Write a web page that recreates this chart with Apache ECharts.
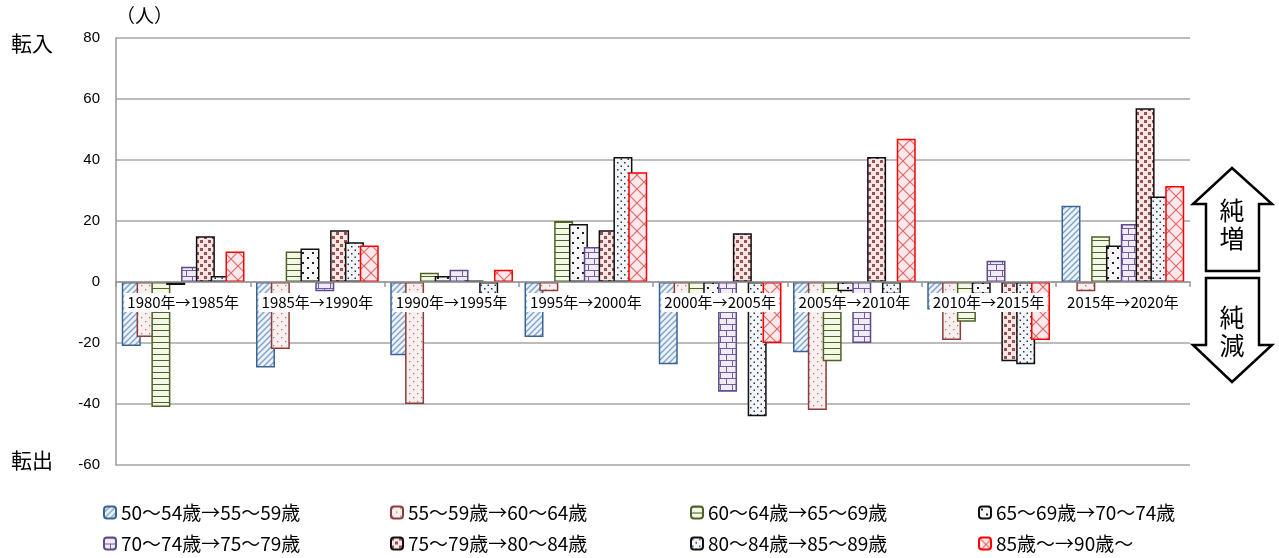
<!DOCTYPE html>
<html>
<head>
<meta charset="utf-8">
<script src="https://cdn.jsdelivr.net/npm/echarts@6/dist/echarts.min.js"></script>
<style>
html, body { margin: 0; padding: 0; background: #fff; }
#main { width: 1279px; height: 558px; }
</style>
</head>
<body>
<div id="main"></div>
<script>
var categories = ['1980年→1985年', '1985年→1990年', '1990年→1995年', '1995年→2000年',
    '2000年→2005年', '2005年→2010年', '2010年→2015年', '2015年→2020年'];
var seriesNames = ['50〜54歳→55〜59歳', '55〜59歳→60〜64歳', '60〜64歳→65〜69歳', '65〜69歳→70〜74歳',
    '70〜74歳→75〜79歳', '75〜79歳→80〜84歳', '80〜84歳→85〜89歳', '85歳〜→90歳〜'];
var age50 = [-21, -28, -24, -18, -27, -23, -9, 25];
var age55 = [-18, -22, -40, -3, -9, -42, -19, -3];
var age60 = [-41, 10, 3, 20, -7, -26, -13, 15];
var age65 = [-1, 11, 2, 19, -5, -3, -4, 12];
var age70 = [5, -3, 4, 11.5, -36, -20, 7, 19];
var age75 = [15, 17, 0.5, 17, 16, 41, -26, 57];
var age80 = [2, 13, -5, 41, -44, -4, -27, 28];
var age85 = [10, 12, 4, 36, -20, 47, -19, 31.5];
var seriesData = [age50, age55, age60, age65, age70, age75, age80, age85];
var yTicks = [-60, -40, -20, 0, 20, 40, 60, 80];

var FONT = 'Noto Sans CJK JP';

// small tiled canvases used as bar fills
function pattern(size, bg, draw) {
    var c = document.createElement('canvas');
    c.width = c.height = size;
    var g = c.getContext('2d');
    g.fillStyle = bg;
    g.fillRect(0, 0, size, size);
    draw(g, size);
    return { image: c, repeat: 'repeat' };
}
function line(g, x1, y1, x2, y2) {
    g.beginPath(); g.moveTo(x1, y1); g.lineTo(x2, y2); g.stroke();
}

var fills = [
    pattern(6, '#eef3f9', function (g, s) {
        g.strokeStyle = '#7fa3c9'; g.lineWidth = 1.4;
        line(g, 0, s, s, 0); line(g, -s, s, s, -s); line(g, 0, 2 * s, 2 * s, 0);
    }),
    pattern(8, '#fbf0f0', function (g) {
        g.fillStyle = '#b07a7a';
        g.fillRect(1, 1, 1.3, 1.3); g.fillRect(5, 5, 1.3, 1.3);
    }),
    pattern(6, '#f4f8e6', function (g, s) {
        g.strokeStyle = '#4f6228'; g.lineWidth = 1;
        line(g, 0, 0.5, s, 0.5);
    }),
    pattern(10, '#f7f7f7', function (g) {
        g.fillStyle = '#222';
        g.fillRect(2, 2, 2, 2); g.fillRect(7, 7, 2, 2);
    }),
    pattern(12, '#f1ebf7', function (g) {
        g.strokeStyle = '#6f5f9a'; g.lineWidth = 1;
        line(g, 0, 0.5, 12, 0.5); line(g, 0, 6.5, 12, 6.5);
        line(g, 0.5, 0, 0.5, 6); line(g, 6.5, 6, 6.5, 12);
    }),
    pattern(8, '#f6e6e6', function (g) {
        g.fillStyle = '#9a5050';
        g.fillRect(0, 0, 3, 3); g.fillRect(4, 4, 3, 3);
    }),
    pattern(7, '#f2f6fa', function (g) {
        g.fillStyle = '#333';
        g.fillRect(1, 1, 1.5, 1.5); g.fillRect(4.5, 4.5, 1.5, 1.5);
    }),
    pattern(14, '#fde9ec', function (g, s) {
        g.strokeStyle = '#e06a6a'; g.lineWidth = 1.2;
        line(g, 0, 0, s, s); line(g, 0, s, s, 0);
    })
];
var borders = ['#3b6496', '#8c3c3c', '#4f6228', '#111', '#5f4b8b', '#111', '#111', '#ff0000'];

var legendLeft = [103, 390, 690, 978];
var legendTop = [503, 534];

var chart = echarts.init(document.getElementById('main'));

var series = seriesData.map(function (d, i) {
    return {
        name: seriesNames[i],
        type: 'bar',
        data: d,
        barWidth: 19,
        barGap: '-22%',
        itemStyle: { color: fills[i], borderColor: borders[i], borderWidth: 1.5 }
    };
});

var legends = seriesNames.map(function (n, i) {
    return {
        data: [n],
        left: legendLeft[i % 4],
        top: legendTop[Math.floor(i / 4)],
        padding: 0,
        itemWidth: 12,
        itemHeight: 12,
        itemGap: 6,
        textStyle: { fontFamily: FONT, fontSize: 19, color: '#000' }
    };
});

var option = {
    animation: false,
    textStyle: { fontFamily: FONT },
    grid: { left: 116, right: 89, top: 38, bottom: 93 },
    legend: legends,
    xAxis: {
        type: 'category',
        data: categories,
        z: 10,
        offset: -183,
        axisLine: { onZero: false, lineStyle: { color: '#999', width: 1.5 } },
        axisTick: { show: true, length: 5, lineStyle: { color: '#999', width: 1.5 } },
        axisLabel: {
            interval: 0, margin: 11, fontSize: 15, color: '#000',
            backgroundColor: '#fff', padding: [2, 3], fontFamily: FONT
        }
    },
    yAxis: {
        type: 'value',
        min: yTicks[0],
        max: yTicks[yTicks.length - 1],
        interval: 20,
        axisLine: { show: true, lineStyle: { color: '#999', width: 1.5 } },
        axisTick: { show: false },
        splitLine: { lineStyle: { color: '#a6a6a6', width: 1.5 } },
        axisLabel: { fontSize: 15, color: '#000', margin: 16, fontFamily: 'Liberation Sans' }
    },
    graphic: [
        { type: 'text', left: 116, top: 6, style: { text: '（人）', fill: '#000', font: '19px ' + FONT } },
        { type: 'text', left: 11, top: 33, style: { text: '転入', fill: '#000', font: '21px ' + FONT } },
        { type: 'text', left: 11, top: 450, style: { text: '転出', fill: '#000', font: '21px ' + FONT } },
        {
            type: 'polygon',
            shape: { points: [[1232, 168], [1272, 204], [1259, 204], [1259, 271], [1206, 271], [1206, 204], [1193, 204]] },
            style: { fill: '#fff', stroke: '#000', lineWidth: 2.5 }
        },
        {
            type: 'polygon',
            shape: { points: [[1206, 278], [1259, 278], [1259, 345], [1272, 345], [1232, 382], [1193, 345], [1206, 345]] },
            style: { fill: '#fff', stroke: '#000', lineWidth: 2.5 }
        },
        { type: 'text', x: 1232, y: 210, style: { text: '純', font: '25px ' + FONT, fill: '#000', align: 'center', verticalAlign: 'middle' } },
        { type: 'text', x: 1232, y: 238, style: { text: '増', font: '25px ' + FONT, fill: '#000', align: 'center', verticalAlign: 'middle' } },
        { type: 'text', x: 1232, y: 317, style: { text: '純', font: '25px ' + FONT, fill: '#000', align: 'center', verticalAlign: 'middle' } },
        { type: 'text', x: 1232, y: 345, style: { text: '減', font: '25px ' + FONT, fill: '#000', align: 'center', verticalAlign: 'middle' } }
    ],
    series: series
};

chart.setOption(option);
</script>
</body>
</html>
